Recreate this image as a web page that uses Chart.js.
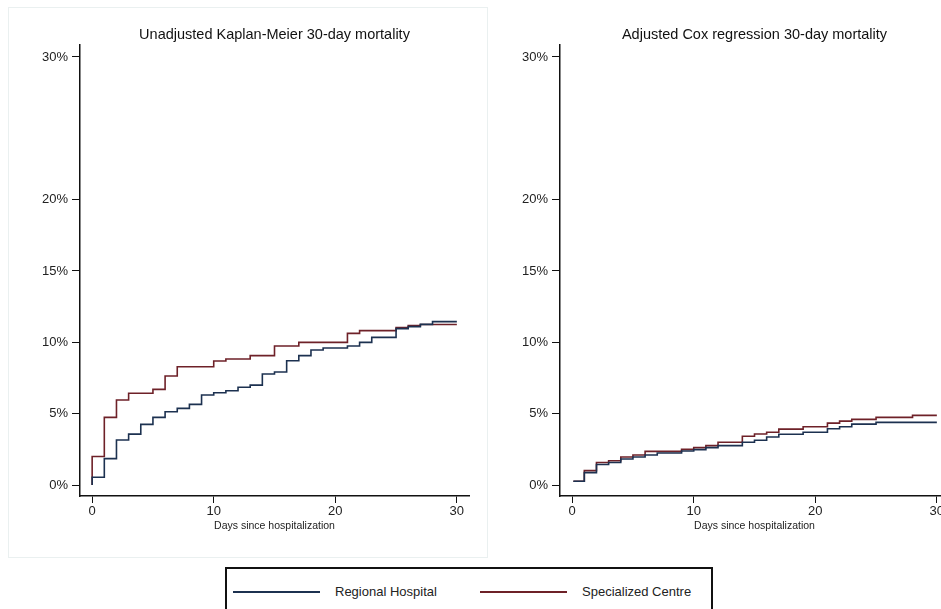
<!DOCTYPE html>
<html>
<head>
<meta charset="utf-8">
<script src="https://cdn.jsdelivr.net/npm/chart.js@4.4.0/dist/chart.umd.min.js"></script>
<style>
  body { margin: 0; width: 941px; height: 609px; overflow: hidden; background: #fff; position: relative;
         font-family: "Liberation Sans", Arial, sans-serif; }
  .panel { position: absolute; left: 8px; top: 7px; width: 478px; height: 549px; border: 1px solid #eaf0f0; }
  canvas { position: absolute; top: 0; }
  #left { left: 0; }
  #right { left: 480px; }
  #legend { position: absolute; left: 225px; top: 567px; width: 484px; height: 60px; border: 2px solid #111; }
  .key { position: absolute; top: 22px; height: 2px; width: 87px; }
  .lab { position: absolute; top: 15px; font-size: 13px; color: #222; }
</style>
</head>
<body>
<div class="panel"></div>
<canvas id="left" width="490" height="560"></canvas>
<canvas id="right" width="490" height="560"></canvas>
<div id="legend">
  <div class="key" style="left:6px;background:#1c3150"></div>
  <div class="lab" style="left:108px">Regional Hospital</div>
  <div class="key" style="left:253px;background:#6e2128"></div>
  <div class="lab" style="left:355px">Specialized Centre</div>
</div>
<script>
// tick labels
const xTicks = [0, 10, 20, 30];
const yTicks = [0, 5, 10, 15, 20, 30];

// Kaplan-Meier cumulative mortality (%), value starts at that day
const kmDaysRegional = [0, 0, 1, 2, 3, 4, 5, 6, 7, 8, 9, 10, 11, 12, 13, 14, 15, 16, 17, 18, 19, 21, 22, 23, 25, 26, 27, 28, 30];
const kmRegional = [0, 0.54, 1.85, 3.15, 3.57, 4.25, 4.74, 5.14, 5.37, 5.65, 6.31, 6.47, 6.61, 6.85, 7.0, 7.78, 7.92, 8.71, 9.07, 9.46, 9.6, 9.74, 10.0, 10.35, 10.96, 11.1, 11.26, 11.45, 11.45];
const kmDaysSpecial = [0, 0, 1, 2, 3, 5, 6, 7, 10, 11, 13, 15, 17, 21, 22, 25, 26, 27, 30];
const kmSpecial = [0, 2.0, 4.74, 5.96, 6.43, 6.7, 7.64, 8.29, 8.69, 8.83, 9.07, 9.74, 10.0, 10.63, 10.82, 11.03, 11.17, 11.25, 11.25];

// Cox adjusted cumulative mortality (%)
const coxDays = [0.1, 1, 2, 3, 4, 5, 6, 7, 9, 10, 11, 12, 14, 15, 16, 17, 19, 21, 22, 23, 25, 28, 30];
const coxRegional = [0.26, 0.87, 1.44, 1.58, 1.82, 1.96, 2.1, 2.24, 2.38, 2.48, 2.62, 2.76, 3.0, 3.14, 3.37, 3.56, 3.7, 3.94, 4.08, 4.27, 4.39, 4.39, 4.39];
const coxSpecial = [0.26, 1.01, 1.58, 1.7, 1.96, 2.1, 2.36, 2.36, 2.5, 2.62, 2.76, 3.0, 3.42, 3.58, 3.7, 3.92, 4.08, 4.34, 4.48, 4.6, 4.74, 4.88, 4.88];

const navy = '#1c3150';
const maroon = '#6e2128';

const titlePlugin = {
  id: 'panelTitle',
  afterDraw(chart, args, opts) {
    const ctx = chart.ctx;
    const a = chart.chartArea;
    ctx.save();
    ctx.font = '14.5px "Liberation Sans", Arial, sans-serif';
    ctx.fillStyle = '#111';
    ctx.textAlign = 'center';
    ctx.textBaseline = 'middle';
    ctx.fillText(opts.text, (a.left + a.right) / 2, 35);
    ctx.restore();
  }
};

function series(days, vals, color) {
  return {
    data: days.map((d, i) => ({ x: d, y: vals[i] })),
    borderColor: color,
    borderWidth: 1.6,
    pointRadius: 0,
    stepped: 'before',
    fill: false
  };
}

function drawPanel(id, title, regional, special) {
  new Chart(document.getElementById(id), {
    type: 'line',
    data: { datasets: [regional, special] },
    plugins: [titlePlugin],
    options: {
      responsive: false,
      animation: false,
      layout: { padding: { top: 45, right: 21, left: 0, bottom: 24 } },
      plugins: {
        legend: { display: false },
        tooltip: { enabled: false },
        panelTitle: { text: title }
      },
      scales: {
        x: {
          type: 'linear',
          min: -1,
          max: 31,
          afterBuildTicks: s => { s.ticks = xTicks.map(v => ({ value: v })); },
          afterFit: s => { s.height = 40; },
          ticks: { color: '#222', font: { size: 13 }, padding: 1, maxRotation: 0 },
          grid: { drawOnChartArea: false, tickLength: 7, color: '#111' },
          border: { color: '#111', width: 1.5 },
          title: { display: true, text: 'Days since hospitalization', color: '#222', font: { size: 10.5 }, padding: { top: 0, bottom: 4 } }
        },
        y: {
          min: -0.77,
          max: 30.84,
          afterBuildTicks: s => { s.ticks = yTicks.map(v => ({ value: v })); },
          afterFit: s => { s.width = 80; },
          ticks: { color: '#222', font: { size: 13 }, padding: 4, callback: v => v + '%' },
          grid: { drawOnChartArea: false, tickLength: 8, color: '#111' },
          border: { color: '#111', width: 1.5 }
        }
      }
    }
  });
}

drawPanel('left', 'Unadjusted Kaplan-Meier 30-day mortality',
  series(kmDaysRegional, kmRegional, navy), series(kmDaysSpecial, kmSpecial, maroon));
drawPanel('right', 'Adjusted Cox regression 30-day mortality',
  series(coxDays, coxRegional, navy), series(coxDays, coxSpecial, maroon));
</script>
</body>
</html>
